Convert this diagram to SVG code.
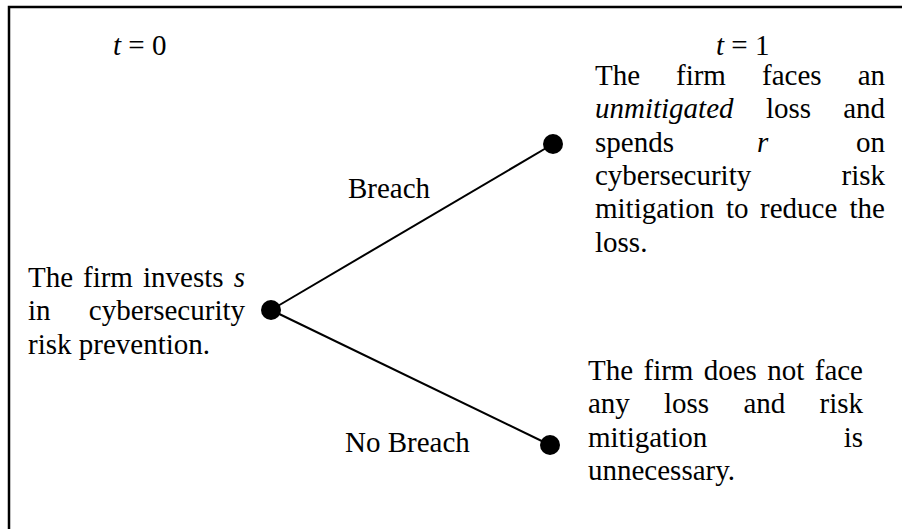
<svg xmlns="http://www.w3.org/2000/svg" width="902" height="529" viewBox="0 0 902 529">
<style>
  text { font-family: "Liberation Serif", "Times New Roman", serif; font-size: 29px; fill: #000; }
  .it { font-style: italic; }
  .end { text-anchor: end; }
  .dot { fill: #000; }
  .edge { stroke: #000; stroke-width: 2; fill: none; }
  .frame { stroke: #000; stroke-width: 2.5; fill: none; }
</style>
<rect width="902" height="529" fill="#fff"/>
<path class="frame" d="M9,529 V7 H902"/>
<g id="time-labels">
  <text x="113" y="55"><tspan class="it">t</tspan> = 0</text>
  <text x="716" y="55"><tspan class="it">t</tspan> = 1</text>
</g>
<g id="connectors">
  <line class="edge" x1="271" y1="310" x2="553" y2="144"/>
  <line class="edge" x1="271" y1="310" x2="550" y2="445"/>
  <text x="348" y="198">Breach</text>
  <text x="345" y="452">No Breach</text>
</g>
<g id="node-invest">
  <circle class="dot" cx="271" cy="310" r="10"/>
  <text x="28" y="287">The</text>
  <text x="83" y="287">firm</text>
  <text x="143" y="287">invests</text>
  <text x="245" y="287" class="it end">s</text>
  <text x="28" y="320">in</text>
  <text x="245" y="320" class="end">cybersecurity</text>
  <text x="28" y="354">risk prevention.</text>
</g>
<g id="node-breach">
  <circle class="dot" cx="553" cy="144" r="10"/>
  <text x="595" y="85">The</text>
  <text x="676" y="85">firm</text>
  <text x="762" y="85">faces</text>
  <text x="885" y="85" class="end">an</text>
  <text x="595" y="118" class="it">unmitigated</text>
  <text x="766" y="118">loss</text>
  <text x="885" y="118" class="end">and</text>
  <text x="595" y="152">spends</text>
  <text x="757" y="152" class="it">r</text>
  <text x="885" y="152" class="end">on</text>
  <text x="595" y="185">cybersecurity</text>
  <text x="885" y="185" class="end">risk</text>
  <text x="595" y="218">mitigation</text>
  <text x="726" y="218">to</text>
  <text x="760" y="218">reduce</text>
  <text x="885" y="218" class="end">the</text>
  <text x="595" y="252">loss.</text>
</g>
<g id="node-no-breach">
  <circle class="dot" cx="550" cy="445" r="10"/>
  <text x="588" y="380">The</text>
  <text x="643.5" y="380">firm</text>
  <text x="703.7" y="380">does</text>
  <text x="767.3" y="380">not</text>
  <text x="863" y="380" class="end">face</text>
  <text x="588" y="413">any</text>
  <text x="664" y="413">loss</text>
  <text x="743.4" y="413">and</text>
  <text x="863" y="413" class="end">risk</text>
  <text x="588" y="447">mitigation</text>
  <text x="863" y="447" class="end">is</text>
  <text x="588" y="480">unnecessary.</text>
</g>
</svg>
